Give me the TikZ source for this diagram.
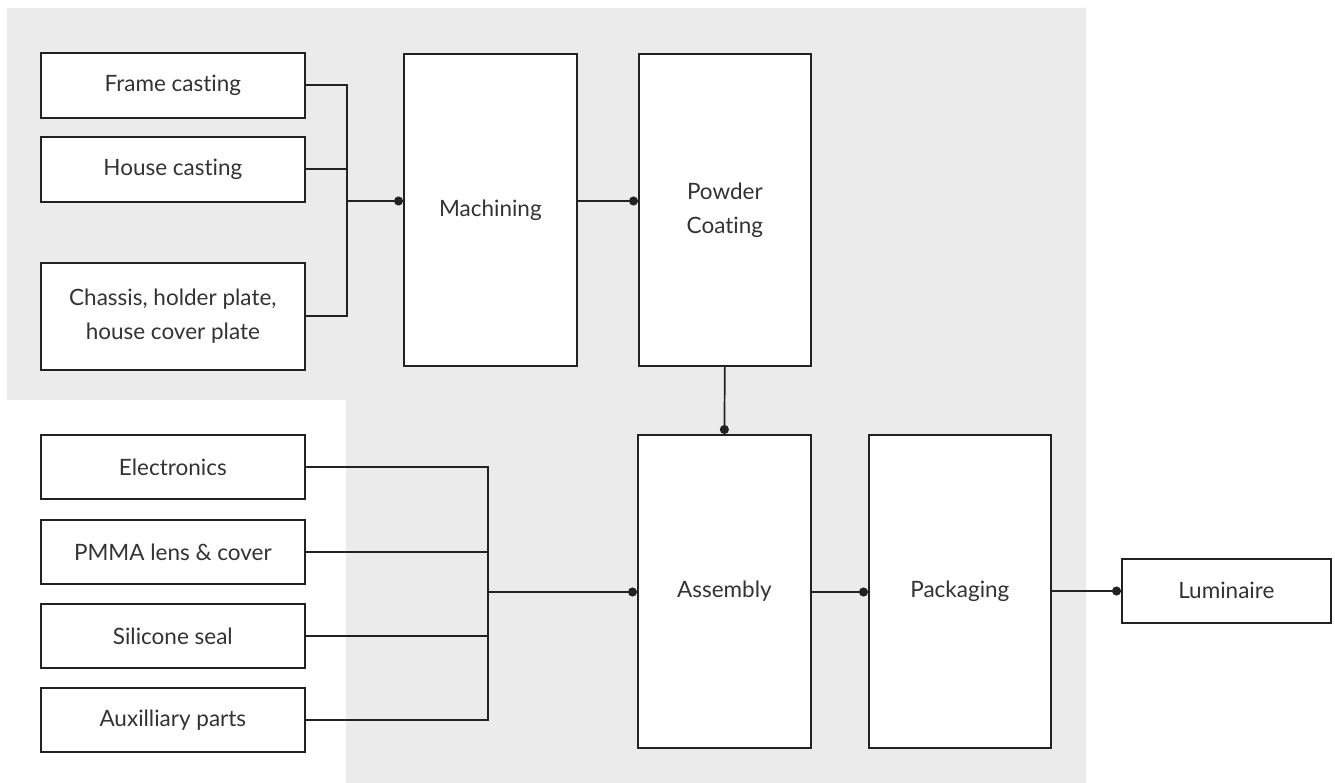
\documentclass[tikz,border=0pt]{standalone}
\usepackage{fontspec}
\setmainfont{Lato}[Ligatures=NoCommon]
\usetikzlibrary{arrows.meta}
\definecolor{bgc}{HTML}{EBEBEB}
\definecolor{linec}{HTML}{222222}
\definecolor{textc}{HTML}{333333}
\tikzset{
  box/.style={draw=linec, line width=1.7pt, fill=white, inner sep=0pt, text=textc,
    font=\fontsize{22.5}{34}\selectfont, align=center, anchor=north west},
  conn/.style={draw=linec, line width=1.7pt},
  dotconn/.style={conn, -{Circle[length=9pt]}}
}
\begin{document}
\begin{tikzpicture}[x=1pt, y=-1pt]
\useasboundingbox (0,0) rectangle (1335,783);
\fill[bgc] (7,8) -- (1086,8) -- (1086,783) -- (346,783) -- (346,400) -- (7,400) -- cycle;

\node[box, minimum width=264pt, minimum height=65pt] (frame) at (40,52) {Frame casting};
\node[box, minimum width=264pt, minimum height=65pt] (house) at (40,136) {House casting};
\node[box, minimum width=264pt, minimum height=107pt] (chassis) at (40,262) {Chassis, holder plate,\\house cover plate};

\node[box, minimum width=173pt, minimum height=312pt] (mach) at (403,53) {Machining};
\node[box, minimum width=172pt, minimum height=312pt] (powder) at (638,53) {Powder\\Coating};

\node[box, minimum width=264pt, minimum height=64pt] (elec) at (40,434) {Electronics};
\node[box, minimum width=264pt, minimum height=64pt] (pmma) at (40,519) {PMMA lens \& cover};
\node[box, minimum width=264pt, minimum height=64pt] (sil) at (40,603) {Silicone seal};
\node[box, minimum width=264pt, minimum height=64pt] (aux) at (40,687) {Auxilliary parts};

\node[box, minimum width=173pt, minimum height=313pt] (asm) at (637,434) {Assembly};
\node[box, minimum width=182pt, minimum height=313pt] (pack) at (868,434) {Packaging};
\node[box, minimum width=209pt, minimum height=64pt] (lum) at (1121,558) {Luminaire};

% top-left group
\coordinate (b1) at (347,201);
\draw[conn] (frame.east) -| (b1);
\draw[conn] (house.east) -| (b1);
\draw[conn] (chassis.east) -| (b1);
\draw[dotconn] (b1) -- (b1 -| mach.west);

\coordinate (m1) at (576,201);
\draw[dotconn] (m1) -- (m1 -| powder.west);

\draw[dotconn] (powder.south) -- (asm.north);

% bottom-left group
\coordinate (b2) at (488,592);
\draw[conn] (elec.east) -| (b2);
\draw[conn] (pmma.east) -| (b2);
\draw[conn] (sil.east) -| (b2);
\draw[conn] (aux.east) -| (b2);
\draw[dotconn] (b2) -- (b2 -| asm.west);

\coordinate (a1) at (810,592);
\draw[dotconn] (a1) -- (a1 -| pack.west);

\coordinate (p1) at (1050,591);
\draw[dotconn] (p1) -- (p1 -| lum.west);
\end{tikzpicture}
\end{document}
